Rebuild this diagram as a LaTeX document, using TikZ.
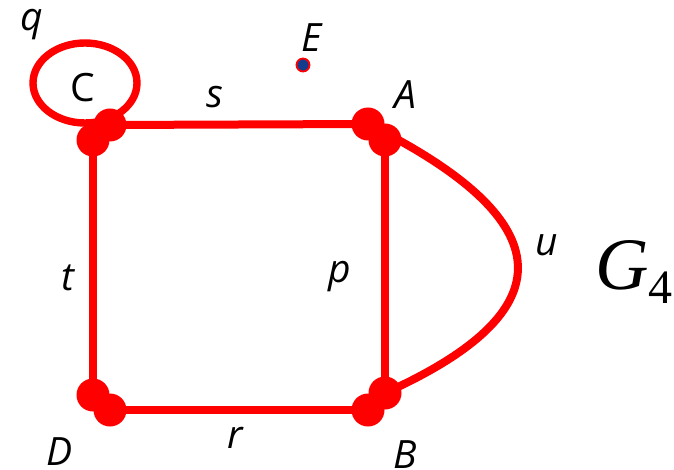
\documentclass[tikz,border=0pt]{standalone}
\usepackage{fontspec}
\setmainfont{Open Sans}
\newfontfamily\serifG{Liberation Serif}
\usepackage{xcolor}
\usetikzlibrary{calc,positioning}

\definecolor{edgered}{RGB}{255,0,0}
\definecolor{dotblue}{RGB}{20,60,140}

\begin{document}
\begin{tikzpicture}[x=0.5pt, y=-0.5pt,
  edge/.style={draw=edgered, line width=4pt},
  vdot/.style={circle, fill=edgered, inner sep=0pt, minimum size=16.5pt},
  lbl/.style={font=\fontsize{19.5}{23}\selectfont\itshape, inner sep=0pt}]
\useasboundingbox (0,0) rectangle (674,470);

% Vertex points: each vertex is drawn as two overlapping dots
\coordinate (C1) at (110,125);
\coordinate (C2) at (93,140);
\coordinate (A1) at (368,124);
\coordinate (A2) at (385,140);
\coordinate (D1) at (93,395);
\coordinate (D2) at (110,410);
\coordinate (B1) at (368,410);
\coordinate (B2) at (385,393);

% Edges
\draw[edge] (C1) -- (A1);
\draw[edge] (C2) -- (D1);
\draw[edge] (D2) -- (B1);
\draw[edge] (A2) -- (B2);
\draw[edge] (A1) .. controls (565,222) and (565,312) .. (B2);
\draw[edge, line width=3.7pt] (85,83) ellipse [x radius=52, y radius=40];

% Dots on top
\foreach \v in {C1,C2,A1,A2,D1,D2,B1,B2}
  \node[vdot] (d\v) at (\v) {};

% Isolated vertex
\node[circle, fill=dotblue, draw=edgered, line width=0.9pt, inner sep=0pt, minimum size=6.5pt] (E) at (303,65) {};

% Labels
\node[lbl] (lq) at (32,25) {q};
\node[lbl, font=\fontsize{19.5}{23}\selectfont] (lC) at (83,88) {C};
\node[lbl] (ls) at (215,97) {s};
\node[lbl] (lE) at (312,38) {E};
\node[lbl] (lA) at (405,95) {A};
\node[lbl] (lt) at (68,278) {t};
\node[lbl] (lp) at (340,277) {p};
\node[lbl] (lu) at (547,245) {u};
\node[lbl] (lD) at (60,452) {D};
\node[lbl] (lr) at (235,438) {r};
\node[lbl] (lB) at (405,455) {B};
\node[inner sep=0pt, font=\fontsize{37}{40}\selectfont\serifG] (G) at (634,272) {\textit{G}\raisebox{-7pt}{\fontsize{24}{26}\selectfont 4}};
\end{tikzpicture}
\end{document}
